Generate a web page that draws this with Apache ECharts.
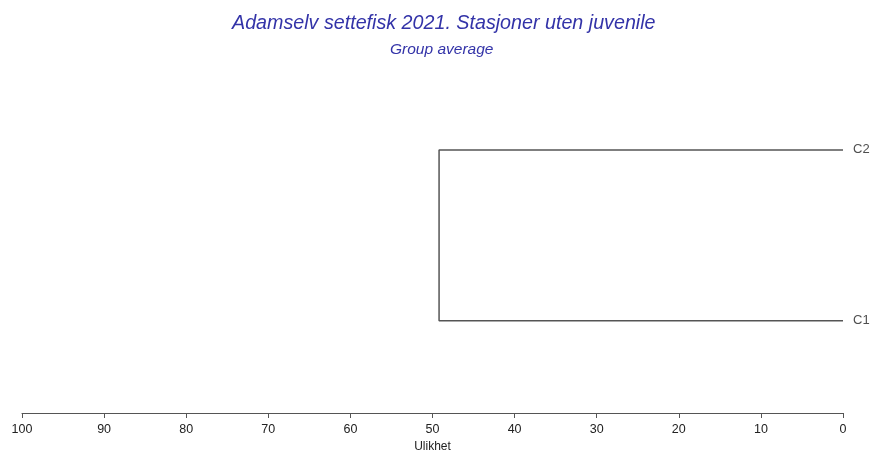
<!DOCTYPE html>
<html>
<head>
<meta charset="utf-8">
<script src="https://cdn.jsdelivr.net/npm/echarts@6/dist/echarts.min.js"></script>
<style>html,body{margin:0;padding:0;background:#fff;}#c{width:873px;height:451px;}</style>
</head>
<body>
<div id="c"></div>
<script>
var leaves = ['C1', 'C2'];
var leafPos = [1, 2];
var joinHeight = 49.2;

var dendroPath = [
  [0, leafPos[1]],
  [joinHeight, leafPos[1]],
  [joinHeight, leafPos[0]],
  [0, leafPos[0]]
];
var leafPoints = leaves.map(function (n, i) { return [0, leafPos[i], n]; });

var chart = echarts.init(document.getElementById('c'));
chart.setOption({
  backgroundColor: '#ffffff',
  animation: false,
  title: [
    {
      text: 'Adamselv settefisk 2021. Stasjoner uten juvenile',
      left: 227, top: 9,
      textStyle: { fontFamily: 'Liberation Sans', fontStyle: 'italic', fontWeight: 'normal', fontSize: 19.7, color: '#3333a8' }
    },
    {
      text: 'Group average',
      left: 385, top: 37,
      textStyle: { fontFamily: 'Liberation Sans', fontStyle: 'italic', fontWeight: 'normal', fontSize: 15.5, color: '#3333a8' }
    }
  ],
  grid: { left: 22, right: 30, top: 64.5, height: 348.5, containLabel: false, outerBoundsMode: 'none' },
  xAxis: {
    type: 'value', inverse: true, min: 0, max: 100, interval: 10,
    name: 'Ulikhet', nameLocation: 'middle', nameGap: 27,
    nameTextStyle: { fontFamily: 'Liberation Sans', fontSize: 12, color: '#222' },
    axisLine: { show: true, lineStyle: { color: '#555', width: 1 } },
    axisTick: { show: true, inside: false, length: 5, lineStyle: { color: '#555' } },
    axisLabel: { fontFamily: 'Liberation Sans', fontSize: 12.5, color: '#222', margin: 10 },
    splitLine: { show: false }
  },
  yAxis: { type: 'value', min: 0.46, max: 2.5, show: false },
  series: [
    { type: 'line', data: dendroPath, symbol: 'none', lineStyle: { color: '#555', width: 1.5 }, silent: true },
    {
      type: 'scatter', data: leafPoints, symbolSize: 0,
      label: {
        show: true, position: 'right', distance: 10,
        formatter: function (p) { return p.data[2]; },
        fontFamily: 'Liberation Sans', fontSize: 13, color: '#222'
      }
    }
  ]
});
</script>
</body>
</html>
